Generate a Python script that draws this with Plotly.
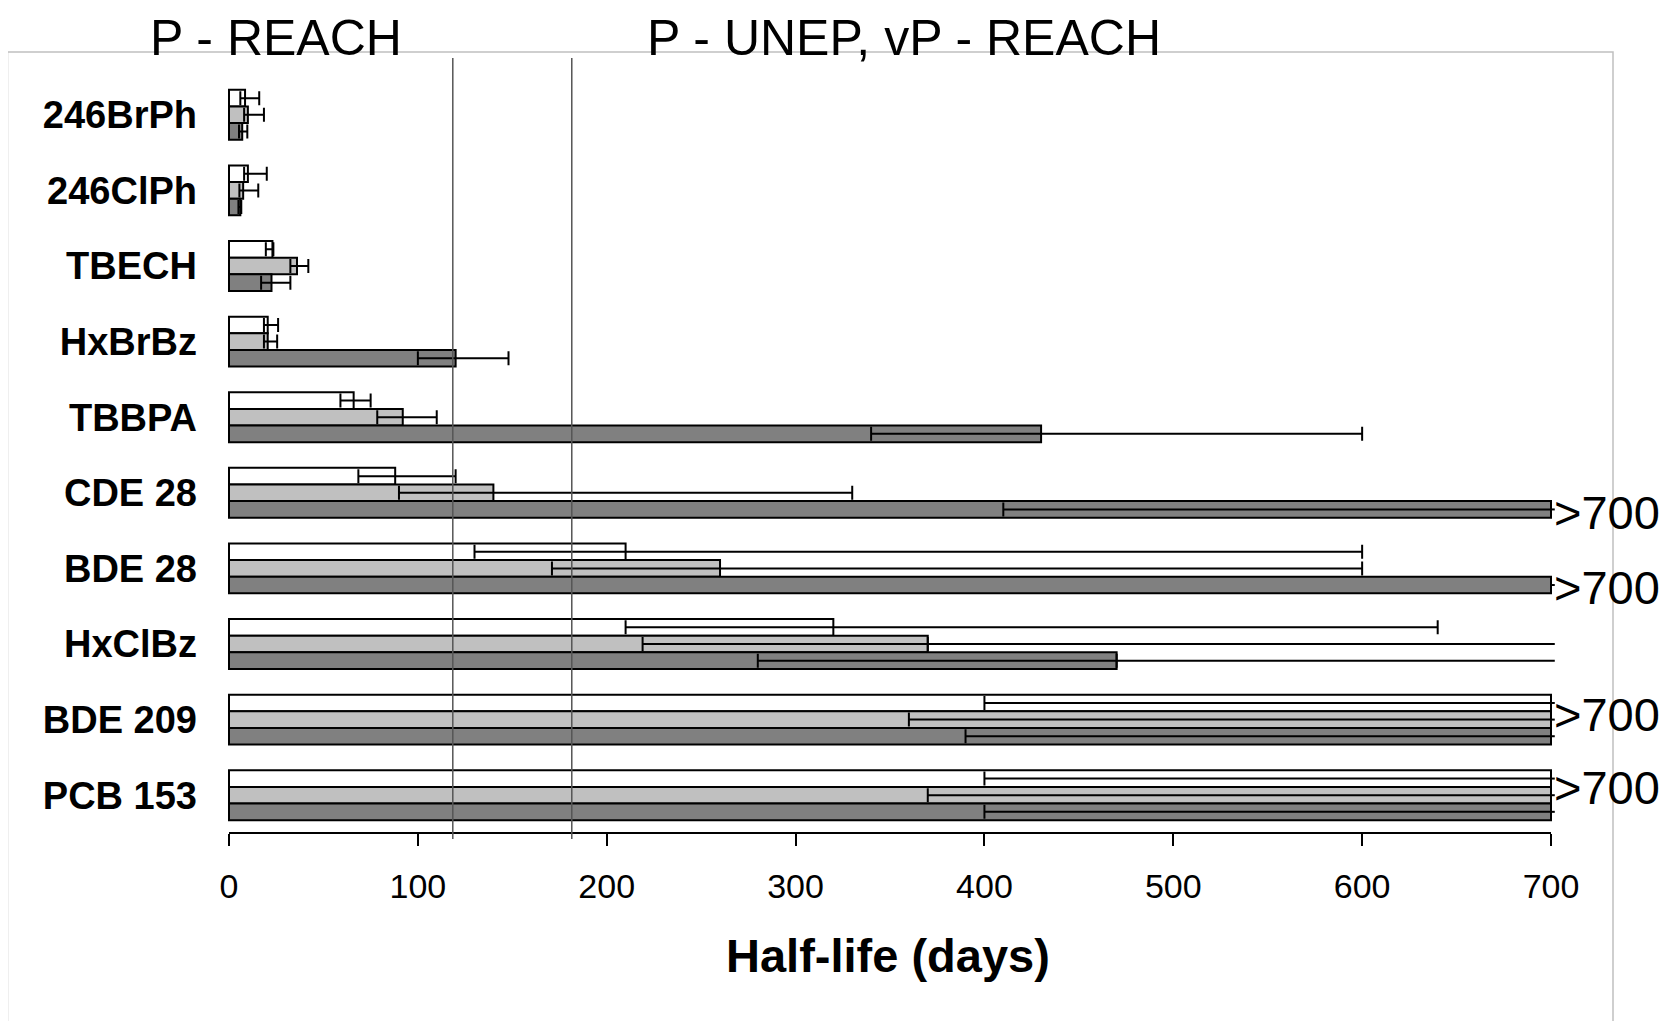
import plotly.graph_objects as go

# ---------------- data ----------------
categories = ["246BrPh", "246ClPh", "TBECH", "HxBrBz", "TBBPA",
              "CDE 28", "BDE 28", "HxClBz", "BDE 209", "PCB 153"]

white_val  = [8.5, 10, 23, 20.5, 66, 88, 210, 320, 700, 700]
white_low  = [6, 8, 19.5, 18.5, 59, 68.5, 130, 210, 400, 400]
white_high = [16, 20, 23.5, 26, 75, 120, 600, 640, 702, 702]

gray_val  = [10, 7.5, 36, 20.5, 92, 140, 260, 370, 700, 700]
gray_low  = [8, 5.5, 32.5, 18.5, 78.5, 90, 171, 219, 360, 370]
gray_high = [18.5, 15.5, 42, 25.5, 110, 330, 600, 702, 702, 702]

dark_val  = [7, 6, 22.5, 120, 430, 700, 700, 470, 700, 700]
dark_low  = [5.3, 5, 17, 100, 340, 410, 700, 280, 390, 400]
dark_high = [9.7, 6.5, 32.5, 148, 600, 702, 702, 702, 702, 702]

OPEN_END = 702          # upper whisker drawn open-ended (no cap)
thresholds = [118.5, 181.5]
threshold_titles = ["P - REACH", "P - UNEP, vP - REACH"]
gt700_cats = ["CDE 28", "BDE 28", "BDE 209", "PCB 153"]
gt700_text = ">700"
x_ticks = [0, 100, 200, 300, 400, 500, 600, 700]
x_title = "Half-life (days)"

# ---------------- styling / layout constants ----------------
OFF = 8                      # page body margin of the browser
W, H = 1676 - OFF, 1021 - OFF
ML, MR, MT, MB = 220, 119, 69, 188
PW, PH = W - ML - MR, H - MT - MB
FONT = "Liberation Sans, Arial, sans-serif"
gt700_yshift = {"CDE 28": -20, "BDE 28": -19, "BDE 209": 5, "PCB 153": 8}


def pxx(X):   # window x pixel -> paper fraction
    return (X - OFF - ML) / PW


def pxy(Y):   # window y pixel -> paper fraction
    return (MT + PH - (Y - OFF)) / PH


series = [
    ("white", white_val, white_low, white_high, "#ffffff"),
    ("light", gray_val, gray_low, gray_high, "#c0c0c0"),
    ("dark", dark_val, dark_low, dark_high, "#808080"),
]

ypos = list(range(len(categories)))

fig = go.Figure()
for name, val, low, high, color in series:
    minus = [v - l for v, l in zip(val, low)]
    plus_cap = [(h - v) if h < OPEN_END else 0 for v, h in zip(val, high)]
    plus_open = [(h - v) if h >= OPEN_END else 0 for v, h in zip(val, high)]
    fig.add_trace(go.Bar(
        x=val, y=ypos, orientation="h", name=name, offsetgroup=name,
        marker=dict(color=color, line=dict(color="black", width=2)),
        error_x=dict(type="data", symmetric=False, array=plus_cap,
                     arrayminus=minus, color="black", thickness=2, width=7),
        showlegend=False, hoverinfo="x+y",
    ))
    fig.add_trace(go.Bar(
        x=val, y=ypos, orientation="h", name=name + "_open", offsetgroup=name,
        marker=dict(color="rgba(0,0,0,0)", line=dict(width=0)),
        error_x=dict(type="data", symmetric=False, array=plus_open,
                     arrayminus=[0] * len(val), color="black", thickness=2, width=0),
        showlegend=False, hoverinfo="skip",
    ))

# x-range so that 0 -> window px 229 and 700 -> window px 1551
s = (1551 - 229) / 700.0
x0 = -((229 - OFF) - ML) / s
x1 = x0 + PW / s

fig.update_layout(
    width=W, height=H,
    margin=dict(l=ML, r=MR, t=MT, b=MB, pad=0),
    paper_bgcolor="white", plot_bgcolor="white",
    barmode="group", bargap=0.34, bargroupgap=0,
    font=dict(family=FONT, color="black"),
    xaxis=dict(range=[x0, x1], tickvals=x_ticks, showgrid=False, zeroline=False,
               showline=False, ticks="outside", ticklen=12, tickwidth=2,
               tickcolor="black", tickfont=dict(size=34, family=FONT),
               ticklabelstandoff=11),
    yaxis=dict(range=[len(categories) - 0.5, -0.5], tickvals=ypos, ticktext=categories,
               showgrid=False, zeroline=False, showline=False, ticks="",
               tickfont=dict(size=38, family=FONT, weight="bold"),
               ticklabelstandoff=30),
)

shapes = []
# x axis line from 0 to 700
shapes.append(dict(type="line", xref="x", yref="paper", x0=x_ticks[0], x1=x_ticks[-1],
                   y0=0, y1=0, line=dict(color="black", width=2), layer="above"))
# threshold lines
for t in thresholds:
    shapes.append(dict(type="line", xref="x", yref="paper", x0=t, x1=t,
                       y0=pxy(839), y1=pxy(58),
                       line=dict(color="#555555", width=1.5), layer="above"))
# outer frame
shapes.append(dict(type="rect", xref="paper", yref="paper",
                   x0=pxx(7.5), x1=pxx(1613), y0=pxy(1040), y1=pxy(52),
                   line=dict(color="#c0c0c0", width=1.5), fillcolor="rgba(0,0,0,0)",
                   layer="below"))
fig.update_layout(shapes=shapes)

ann = []
title_x = [276, 904]
for txt, px in zip(threshold_titles, title_x):
    ann.append(dict(text=txt, xref="paper", yref="paper",
                    x=pxx(px), y=pxy(37.5),
                    xanchor="center", yanchor="middle", showarrow=False,
                    font=dict(size=50, family=FONT, color="black")))
for c in gt700_cats:
    ann.append(dict(text=gt700_text, xref="x", yref="y", x=700, y=categories.index(c),
                    xanchor="left", yanchor="middle", xshift=1, yshift=gt700_yshift[c],
                    showarrow=False, font=dict(size=47, family=FONT, color="black")))
ann.append(dict(text=x_title, xref="paper", yref="paper",
                x=pxx(888), y=pxy(955),
                xanchor="center", yanchor="middle", showarrow=False,
                font=dict(size=47, family=FONT, color="black", weight="bold")))
fig.update_layout(annotations=ann)

fig.write_html("out.html")
